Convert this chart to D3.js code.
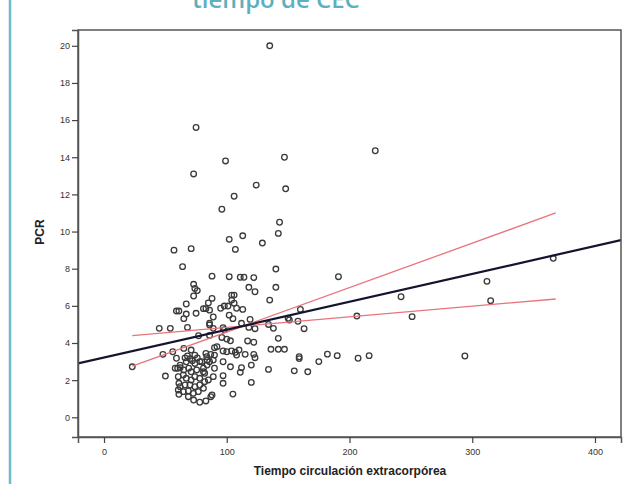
<!DOCTYPE html>
<html>
<head>
<meta charset="utf-8">
<script src="https://cdn.jsdelivr.net/npm/d3@7"></script>
<style>
  html, body { margin: 0; padding: 0; background: #fff; }
  svg { display: block; }
</style>
</head>
<body>
<svg id="chart" width="640" height="484"></svg>
<script>
// ---- data ----
const titleText = "tiempo de CEC";
const xLabel = "Tiempo circulación extracorpórea";
const yLabel = "PCR";
const xTicks = [0, 100, 200, 300, 400];
const yTicks = [0, 2, 4, 6, 8, 10, 12, 14, 16, 18, 20];

// scatter points: [tiempo CEC, PCR]
const points = [
  [135,20.0],[75,15.6],[221,14.35],[99,13.8],[147,14.0],[73,13.1],[124,12.5],[148,12.3],
  [106,11.9],[96,11.2],[143,10.5],[142,9.9],[113,9.77],[102,9.58],[107,9.04],[129,9.38],
  [57,9.0],[71,9.08],[64,8.11],[140,7.98],[140,7.0],[88,7.6],[102,7.57],[111,7.54],
  [114,7.54],[122,7.52],[191,7.57],[73,7.16],[74,6.94],[76,6.82],[73,6.53],[118,7.0],
  [123,6.76],[135,6.31],[88,6.4],[85,6.16],[104,6.58],[106,6.58],[104,6.31],[106,6.14],
  [67,6.1],[101,5.99],[98,5.99],[95,5.87],[108,5.87],[113,5.81],[81,5.85],[59,5.72],
  [61,5.72],[67,5.56],[75,5.6],[83,5.85],[86,5.77],[102,5.5],[105,5.31],[65,5.31],
  [89,5.4],[86,5.06],[119,5.27],[160,5.81],[150,5.33],[151,5.24],[158,5.17],[134,5.0],
  [138,4.79],[163,4.77],[112,5.06],[118,4.84],[123,4.77],[45,4.79],[54,4.79],[68,4.84],
  [86,4.97],[89,4.79],[97,4.82],[98,4.72],[77,4.39],[86,4.41],[96,4.30],[100,4.21],
  [103,4.12],[117,4.11],[122,4.04],[142,4.25],
  [366,8.56],[312,7.32],[315,6.28],[242,6.49],[251,5.42],[206,5.45],[294,3.3],[159,3.26],
  [159,3.16],[175,3.0],[182,3.4],[190,3.32],[207,3.18],[216,3.32],[155,2.5],[166,2.45],
  [136,3.66],[142,3.66],[147,3.66],[134,2.58],
  [23,2.72],[48,3.39],[56,3.53],[65,3.71],[71,3.62],[50,2.22],[60,2.64],[59,3.18],
  [66,3.2],[68,3.3],[70,3.15],[72,3.05],[74,3.35],[76,3.2],[78,3.0],[83,3.44],
  [90,3.35],[84,3.08],[92,3.8],[90,3.75],[97,3.57],[100,3.53],[104,3.57],[107,3.5],
  [110,3.62],[115,3.39],[122,3.39],[123,3.21],[108,3.35],[97,2.99],[89,3.08],[120,2.81],
  [103,2.72],[112,2.67],[111,2.42],[90,2.64],[89,2.19],[97,2.24],[97,1.83],[120,1.88],
  [88,1.2],[105,1.25],[62,1.65],[61,1.24],[73,0.93],[78,0.81],[83,0.88],[87,1.11],
  [81,2.45],[82,2.37],
  [58,2.64],[62,2.67],[65,2.55],[69,2.64],[71,2.45],[75.5,2.55],[81,2.64],[84,2.81],
  [86,2.99],[60.5,2.19],[64.6,2.28],[67,2.1],[71,2.01],[74,2.19],[78,2.1],[82,1.92],
  [85,2.01],[61,1.83],[66,1.74],[70,1.74],[74,1.65],[78,1.74],[81,1.56],[60.5,1.47],
  [64.6,1.38],[68.7,1.42],[72.8,1.29],[76.8,1.38],[68.7,1.11],[62,2.81],[67,2.99],
  [74,2.9],[79.6,2.99],[83.7,3.26],[87,3.39]
];

// regression line (whole range) and the two red lines
const fitLine = [[-21.2, 2.9], [421.2, 9.54]];
const redLineA = [[23, 2.75], [368, 11.0]];
const redLineB = [[23, 4.4], [368, 6.37]];

// ---- drawing ----
const svg = d3.select("#chart");
const plot = { left: 78, right: 621, top: 30, bottom: 437 };

const x = d3.scaleLinear().domain([-21.2, 421.2]).range([plot.left, plot.right]);
const y = d3.scaleLinear().domain([-1.06, 20.85]).range([plot.bottom, plot.top]);

// left decorative page rule
svg.append("line")
  .attr("x1", 10).attr("x2", 10).attr("y1", 0).attr("y2", 484)
  .attr("stroke", "#74b9c9").attr("stroke-width", 2.5);

// title (cut off at top)
svg.append("text")
  .attr("x", 276).attr("y", 8)
  .attr("text-anchor", "middle")
  .attr("font-family", "'Open Sans', sans-serif")
  .attr("font-weight", 600)
  .attr("font-size", 24)
  .attr("fill", "#5db0c1")
  .text(titleText);

// clip for plot
svg.append("clipPath").attr("id", "clip")
  .append("rect")
  .attr("x", plot.left).attr("y", plot.top)
  .attr("width", plot.right - plot.left).attr("height", plot.bottom - plot.top);

const g = svg.append("g").attr("clip-path", "url(#clip)");

const line = d3.line().x(d => x(d[0])).y(d => y(d[1]));

// points
g.selectAll("circle.pt").data(points).enter().append("circle")
  .attr("class", "pt")
  .attr("cx", d => x(d[0])).attr("cy", d => y(d[1]))
  .attr("r", 2.8)
  .attr("fill", "none")
  .attr("stroke", "#3a3a3a")
  .attr("stroke-width", 1.3);

// red lines
[redLineA, redLineB].forEach(l => {
  g.append("path").datum(l).attr("d", line)
    .attr("fill", "none").attr("stroke", "#e8737b").attr("stroke-width", 1.3);
});

// fit line
g.append("path").datum(fitLine).attr("d", line)
  .attr("fill", "none").attr("stroke", "#14142e").attr("stroke-width", 2.2);

// frame
svg.append("rect")
  .attr("x", plot.left).attr("y", plot.top)
  .attr("width", plot.right - plot.left).attr("height", plot.bottom - plot.top)
  .attr("fill", "none").attr("stroke", "#555").attr("stroke-width", 1.5);

// axes
const yAxis = d3.axisLeft(y).tickValues(yTicks).tickSize(6).tickPadding(2).tickFormat(d3.format("d"));
const xAxis = d3.axisBottom(x).tickValues(xTicks).tickSize(6).tickPadding(6).tickFormat(d3.format("d"));

const ya = svg.append("g").attr("transform", `translate(${plot.left},0)`).call(yAxis);
const xa = svg.append("g").attr("transform", `translate(0,${plot.bottom})`).call(xAxis);

[ya, xa].forEach(a => {
  a.select(".domain").attr("stroke", "#555").attr("stroke-width", 1.5);
  a.selectAll(".tick line").attr("stroke", "#444").attr("stroke-width", 1.2);
  a.selectAll(".tick text")
    .attr("font-family", "'Liberation Sans', Arial, sans-serif")
    .attr("font-size", 9).attr("fill", "#333");
});

// axis titles
svg.append("text")
  .attr("x", 350).attr("y", 475)
  .attr("text-anchor", "middle")
  .attr("font-family", "'Liberation Sans', Arial, sans-serif")
  .attr("font-weight", "bold").attr("font-size", 12).attr("fill", "#222")
  .text(xLabel);

svg.append("text")
  .attr("transform", "translate(44,232) rotate(-90)")
  .attr("text-anchor", "middle")
  .attr("font-family", "'Liberation Sans', Arial, sans-serif")
  .attr("font-weight", "bold").attr("font-size", 12).attr("fill", "#222")
  .text(yLabel);
</script>
</body>
</html>
